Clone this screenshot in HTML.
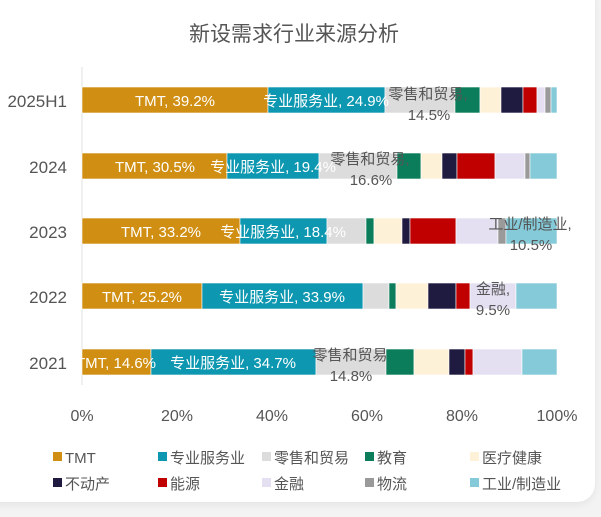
<!DOCTYPE html>
<html><head><meta charset="utf-8"><style>
body{margin:0;width:601px;height:517px;background:#f3f3f3;overflow:hidden;font-family:"Liberation Sans","Noto Sans CJK SC",sans-serif;}
.card{position:absolute;left:-20px;top:-20px;width:615px;height:522px;background:#fff;border-radius:18px;box-shadow:0 3px 8px rgba(0,0,0,0.06);}
</style></head><body>
<div class="card"></div>
<svg width="601" height="517" style="position:absolute;left:0;top:0" font-family="Liberation Sans, Noto Sans CJK SC, sans-serif">
<text x="294" y="41" font-size="21" fill="#555" text-anchor="middle">新设需求行业来源分析</text>
<line x1="82" y1="67" x2="82" y2="385" stroke="#e0e0e0"/>
<g font-size="17" fill="#555" text-anchor="end">
<text x="67" y="107">2025H1</text><text x="67" y="173">2024</text><text x="67" y="238">2023</text><text x="67" y="303">2022</text><text x="67" y="369">2021</text>
</g>
<g font-size="16" fill="#555" text-anchor="middle">
<text x="82" y="421">0%</text><text x="177" y="421">20%</text><text x="272" y="421">40%</text><text x="367" y="421">60%</text><text x="462" y="421">80%</text><text x="557" y="421">100%</text>
</g>
<g font-size="15" fill="#555">
<rect x="53" y="452" width="9" height="9" fill="#D08F12"/><text x="65" y="463">TMT</text>
<rect x="158" y="452" width="9" height="9" fill="#0E97B0"/><text x="170" y="463">专业服务业</text>
<rect x="262" y="452" width="9" height="9" fill="#DCDCDC"/><text x="274" y="463">零售和贸易</text>
<rect x="365" y="452" width="9" height="9" fill="#0B7D5B"/><text x="377" y="463">教育</text>
<rect x="470" y="452" width="9" height="9" fill="#FDF1D8"/><text x="482" y="463">医疗健康</text>
<rect x="53" y="478" width="9" height="9" fill="#1F1A40"/><text x="65" y="489">不动产</text>
<rect x="158" y="478" width="9" height="9" fill="#C00000"/><text x="170" y="489">能源</text>
<rect x="262" y="478" width="9" height="9" fill="#E4E0F2"/><text x="274" y="489">金融</text>
<rect x="365" y="478" width="9" height="9" fill="#9A9A9A"/><text x="377" y="489">物流</text>
<rect x="470" y="478" width="9" height="9" fill="#84CAD8"/><text x="482" y="489">工业/制造业</text>
</g>
<g stroke="#fff" stroke-width="0.6">
<rect x="82" y="87" width="186" height="26" fill="#D08F12"/><rect x="268" y="87" width="117" height="26" fill="#0E97B0"/><rect x="385" y="87" width="70" height="26" fill="#DCDCDC"/><rect x="455" y="87" width="25" height="26" fill="#0B7D5B"/><rect x="480" y="87" width="21" height="26" fill="#FDF1D8"/><rect x="501" y="87" width="22" height="26" fill="#1F1A40"/><rect x="523" y="87" width="14" height="26" fill="#C00000"/><rect x="537" y="87" width="8" height="26" fill="#E4E0F2"/><rect x="545" y="87" width="6" height="26" fill="#9A9A9A"/><rect x="551" y="87" width="6" height="26" fill="#84CAD8"/>
<rect x="82" y="153" width="145" height="26" fill="#D08F12"/><rect x="227" y="153" width="92" height="26" fill="#0E97B0"/><rect x="319" y="153" width="78" height="26" fill="#DCDCDC"/><rect x="397" y="153" width="24" height="26" fill="#0B7D5B"/><rect x="421" y="153" width="21" height="26" fill="#FDF1D8"/><rect x="442" y="153" width="15" height="26" fill="#1F1A40"/><rect x="457" y="153" width="38" height="26" fill="#C00000"/><rect x="495" y="153" width="30" height="26" fill="#E4E0F2"/><rect x="525" y="153" width="5" height="26" fill="#9A9A9A"/><rect x="530" y="153" width="27" height="26" fill="#84CAD8"/>
<rect x="82" y="218" width="158" height="26" fill="#D08F12"/><rect x="240" y="218" width="87" height="26" fill="#0E97B0"/><rect x="327" y="218" width="39" height="26" fill="#DCDCDC"/><rect x="366" y="218" width="8" height="26" fill="#0B7D5B"/><rect x="374" y="218" width="28" height="26" fill="#FDF1D8"/><rect x="402" y="218" width="8" height="26" fill="#1F1A40"/><rect x="410" y="218" width="46" height="26" fill="#C00000"/><rect x="456" y="218" width="42" height="26" fill="#E4E0F2"/><rect x="498" y="218" width="8" height="26" fill="#9A9A9A"/><rect x="506" y="218" width="51" height="26" fill="#84CAD8"/>
<rect x="82" y="283" width="120" height="26" fill="#D08F12"/><rect x="202" y="283" width="161" height="26" fill="#0E97B0"/><rect x="363" y="283" width="26" height="26" fill="#DCDCDC"/><rect x="389" y="283" width="7" height="26" fill="#0B7D5B"/><rect x="396" y="283" width="32" height="26" fill="#FDF1D8"/><rect x="428" y="283" width="28" height="26" fill="#1F1A40"/><rect x="456" y="283" width="14" height="26" fill="#C00000"/><rect x="470" y="283" width="46" height="26" fill="#E4E0F2"/><rect x="516" y="283" width="41" height="26" fill="#84CAD8"/>
<rect x="82" y="349" width="69" height="26" fill="#D08F12"/><rect x="151" y="349" width="165" height="26" fill="#0E97B0"/><rect x="316" y="349" width="70" height="26" fill="#DCDCDC"/><rect x="386" y="349" width="28" height="26" fill="#0B7D5B"/><rect x="414" y="349" width="35" height="26" fill="#FDF1D8"/><rect x="449" y="349" width="16" height="26" fill="#1F1A40"/><rect x="465" y="349" width="8" height="26" fill="#C00000"/><rect x="473" y="349" width="49" height="26" fill="#E4E0F2"/><rect x="522" y="349" width="35" height="26" fill="#84CAD8"/>
</g>
<g font-size="15" fill="#fff" text-anchor="middle">
<text x="175" y="106">TMT, 39.2%</text><text x="326" y="106">专业服务业, 24.9%</text>
<text x="155" y="172">TMT, 30.5%</text><text x="273" y="172">专业服务业, 19.4%</text>
<text x="161" y="237">TMT, 33.2%</text><text x="283" y="237">专业服务业, 18.4%</text>
<text x="142" y="302">TMT, 25.2%</text><text x="282" y="302">专业服务业, 33.9%</text>
<text x="116" y="368">TMT, 14.6%</text><text x="233" y="368">专业服务业, 34.7%</text>
</g>
<g font-size="15" fill="#555" text-anchor="middle">
<text x="428" y="99">零售和贸易,</text><text x="429" y="120">14.5%</text>
<text x="370" y="164">零售和贸易,</text><text x="371" y="185">16.6%</text>
<text x="530" y="229">工业/制造业,</text><text x="531" y="250">10.5%</text>
<text x="493" y="294">金融,</text><text x="493" y="315">9.5%</text>
<text x="350" y="360">零售和贸易</text><text x="351" y="381">14.8%</text>
</g>
</svg>
</body></html>
